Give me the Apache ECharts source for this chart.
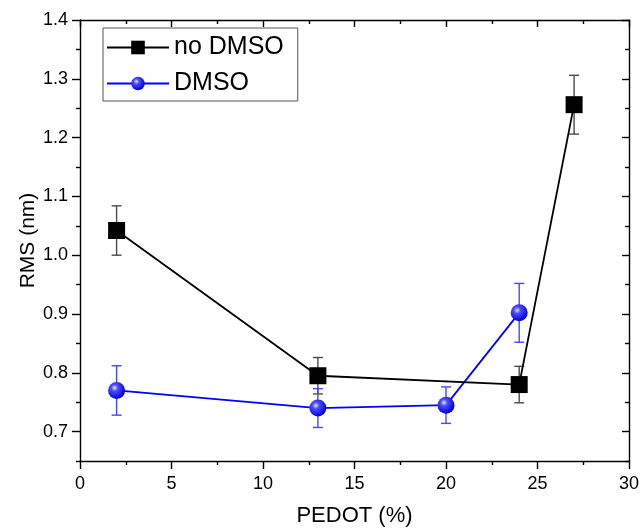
<!DOCTYPE html>
<html><head><meta charset="utf-8">
<script src="https://cdn.jsdelivr.net/npm/echarts@6/dist/echarts.min.js"></script>
<style>html,body{margin:0;padding:0;background:#fff}#c{width:643px;height:528px}</style>
</head><body><div id="c"></div>
<script>
const noX = [2, 13, 24, 27];
const noY = [1.042, 0.795, 0.780, 1.256];
const noErr = [0.042, 0.031, 0.031, 0.050];
const dmX = [2, 13, 20, 24];
const dmY = [0.770, 0.740, 0.745, 0.902];
const dmErr = [0.042, 0.033, 0.031, 0.050];
const yMajor = [0.7, 0.8, 0.9, 1.0, 1.1, 1.2, 1.3, 1.4];
const yMinor = [0.65, 0.75, 0.85, 0.95, 1.05, 1.15, 1.25, 1.35];

const font = 'Liberation Sans, Arial, sans-serif';
const chart = echarts.init(document.getElementById('c'), null, {renderer: 'canvas'});

function pts(xs, ys) { return xs.map((x, i) => [x, ys[i]]); }
function errData(xs, ys, es) { return xs.map((x, i) => [x, ys[i] - es[i], ys[i] + es[i]]); }
function errRender(color) {
  return function (params, api) {
    const x = api.value(0);
    const lo = api.coord([x, api.value(1)]);
    const hi = api.coord([x, api.value(2)]);
    const w = 5;
    const st = {stroke: color, lineWidth: 1.4};
    return {type: 'group', children: [
      {type: 'line', shape: {x1: lo[0], y1: lo[1], x2: hi[0], y2: hi[1]}, style: st},
      {type: 'line', shape: {x1: lo[0] - w, y1: lo[1], x2: lo[0] + w, y2: lo[1]}, style: st},
      {type: 'line', shape: {x1: hi[0] - w, y1: hi[1], x2: hi[0] + w, y2: hi[1]}, style: st}
    ]};
  };
}

const sphere = new echarts.graphic.RadialGradient(0.38, 0.35, 0.65, [
  {offset: 0, color: '#e8e8ff'},
  {offset: 0.3, color: '#4d4dff'},
  {offset: 1, color: '#0000d8'}
]);

const baseY = {type: 'value', min: 0.65, max: 1.4, splitLine: {show: false}};
const lineStyleAxis = {color: '#000', width: 1.4};

chart.setOption({
  animation: false,
  backgroundColor: '#fff',
  grid: {left: 80, top: 20, right: 14, bottom: 67, containLabel: false, outerBoundsMode: 'none'},
  legend: {
    left: 103, top: 28, orient: 'vertical',
    borderColor: '#555', borderWidth: 1, padding: [7, 14, 5, 3],
    itemWidth: 62, itemHeight: 17, itemGap: 11,
    textStyle: {fontFamily: font, fontSize: 25, color: '#000', lineHeight: 24},
    data: ['no DMSO', 'DMSO']
  },
  xAxis: [
    {type: 'value', position: 'bottom', min: 0, max: 30, interval: 5,
      axisLine: {lineStyle: lineStyleAxis},
      axisTick: {length: 8, lineStyle: lineStyleAxis},
      minorTick: {show: true, splitNumber: 2, length: 4, lineStyle: {color: '#000', width: 1.4}},
      axisLabel: {fontFamily: font, fontSize: 18, color: '#000', margin: 14},
      splitLine: {show: false},
      name: 'PEDOT (%)', nameLocation: 'middle', nameGap: 44, nameMoveOverlap: false,
      nameTextStyle: {fontFamily: font, fontSize: 22, color: '#000'}},
    {type: 'value', position: 'top', min: 0, max: 30, interval: 5,
      axisLine: {lineStyle: lineStyleAxis},
      axisTick: {inside: true, length: 7, lineStyle: lineStyleAxis},
      minorTick: {show: true, splitNumber: 2, length: 4, lineStyle: {color: '#000', width: 1.4}},
      axisLabel: {show: false}, splitLine: {show: false}}
  ],
  yAxis: [
    Object.assign({}, baseY, {position: 'left',
      axisLine: {show: true, lineStyle: lineStyleAxis},
      axisTick: {show: true, length: 8, customValues: yMajor, lineStyle: lineStyleAxis},
      axisLabel: {customValues: yMajor, formatter: v => v.toFixed(1), fontFamily: font, fontSize: 18, color: '#000', margin: 12},
      name: 'RMS (nm)', nameLocation: 'middle', nameGap: 41, nameRotate: 90, nameMoveOverlap: false,
      nameTextStyle: {fontFamily: font, fontSize: 21, color: '#000'}}),
    Object.assign({}, baseY, {position: 'left',
      axisLine: {show: false},
      axisTick: {show: true, length: 4, customValues: yMinor, lineStyle: lineStyleAxis},
      axisLabel: {show: false}}),
    Object.assign({}, baseY, {position: 'right',
      axisLine: {show: true, lineStyle: lineStyleAxis},
      axisTick: {show: true, inside: true, length: 7, customValues: yMajor, lineStyle: lineStyleAxis},
      axisLabel: {show: false}}),
    Object.assign({}, baseY, {position: 'right',
      axisLine: {show: false},
      axisTick: {show: true, inside: true, length: 4, customValues: yMinor, lineStyle: lineStyleAxis},
      axisLabel: {show: false}})
  ],
  series: [
    {type: 'custom', name: 'errNo', renderItem: errRender('#4a4a4a'), data: errData(noX, noY, noErr),
      encode: {x: 0, y: [1, 2]}, z: 1, silent: true},
    {type: 'custom', name: 'errDm', renderItem: errRender('#4646ff'), data: errData(dmX, dmY, dmErr),
      encode: {x: 0, y: [1, 2]}, z: 1, silent: true},
    {type: 'line', name: 'no DMSO', data: pts(noX, noY), symbol: 'rect', symbolSize: 17,
      itemStyle: {color: '#000'}, lineStyle: {color: '#000', width: 1.8}, z: 3},
    {type: 'line', name: 'DMSO', data: pts(dmX, dmY), symbol: 'circle', symbolSize: 17,
      itemStyle: {color: sphere}, lineStyle: {color: '#0000ff', width: 1.8}, z: 2}
  ]
});
</script></body></html>
